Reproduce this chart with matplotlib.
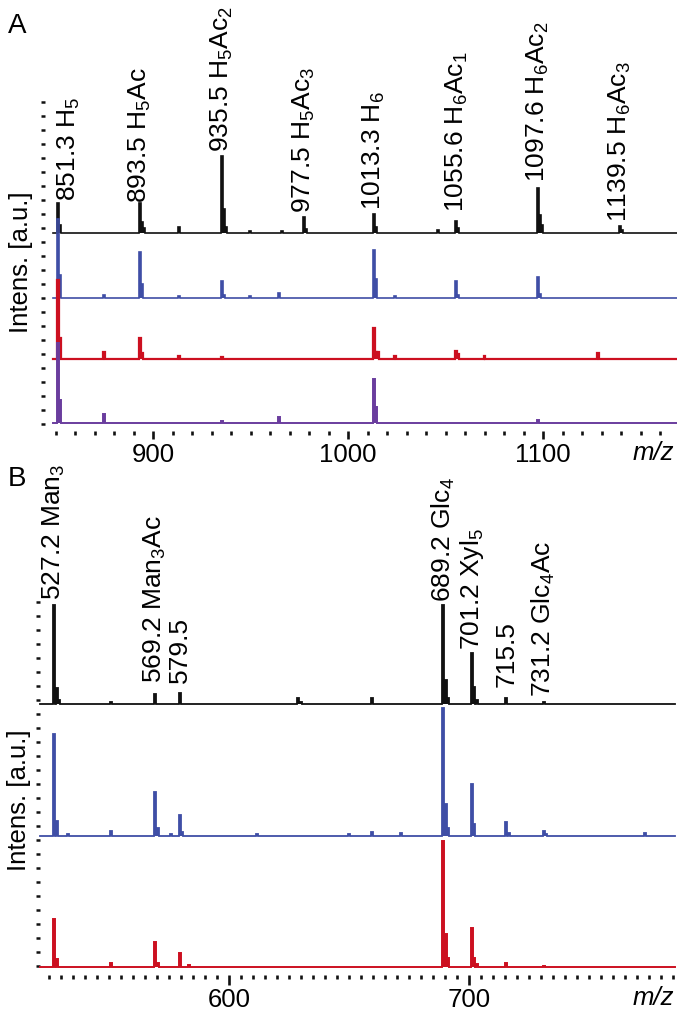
import numpy as np
import matplotlib
matplotlib.use('Agg')
import matplotlib.pyplot as plt
from matplotlib.ticker import FixedLocator, MultipleLocator, NullFormatter, FixedFormatter

plt.rcParams['font.family'] = ['Liberation Sans', 'DejaVu Sans']
plt.rcParams['mathtext.fontset'] = 'custom'
plt.rcParams['mathtext.rm'] = 'Liberation Sans'
plt.rcParams['mathtext.it'] = 'Liberation Sans:italic'
plt.rcParams['mathtext.default'] = 'regular'

# ---------------- Panel A data (m/z, intensity in a.u.) ----------------
a_black_mz  = [851.3, 852.3, 893.5, 894.5, 895.5, 913.5, 935.5, 936.5, 937.5, 949.5, 966.0,
               977.5, 978.5, 1013.3, 1014.3, 1046.0, 1055.6, 1056.6, 1097.6, 1098.6, 1099.6,
               1139.5, 1140.5]
a_black_int = [30, 8, 30, 11, 5, 6, 77, 24, 6, 2, 2,
               16, 4, 19, 6, 3, 12, 5, 45, 18, 8,
               7, 3]

a_blue_mz  = [851.3, 852.3, 875.0, 893.5, 894.5, 913.5, 935.5, 936.5, 949.5, 964.5,
              1013.3, 1014.3, 1024.0, 1055.6, 1056.6, 1097.6, 1098.6]
a_blue_int = [79, 23, 3, 46, 14, 2, 17, 3, 2, 5,
              48, 19, 2, 17, 3, 21, 4]

a_red_mz  = [851.3, 852.3, 875.0, 893.5, 894.5, 913.5, 935.5, 1013.3, 1014.3, 1015.3,
             1024.0, 1055.6, 1056.6, 1070.0, 1128.0]
a_red_int = [79, 21, 7, 21, 6, 3, 2, 31, 7, 7,
             3, 8, 5, 3, 6]

a_purple_mz  = [851.3, 852.3, 875.0, 935.5, 964.5, 1013.3, 1014.3, 1097.6]
a_purple_int = [80, 23, 9, 2, 6, 44, 16, 3]

a_label_mz   = [851.3, 893.5, 935.5, 977.5, 1013.3, 1055.6, 1097.6, 1139.5]
a_label_text = [r'851.3 H$_5$', r'893.5 H$_5$Ac', r'935.5 H$_5$Ac$_2$', r'977.5 H$_5$Ac$_3$',
                r'1013.3 H$_6$', r'1055.6 H$_6$Ac$_1$', r'1097.6 H$_6$Ac$_2$', r'1139.5 H$_6$Ac$_3$']
a_xticks       = [900, 1000, 1100]
a_xtick_labels = ['900', '1000', '1100']

# ---------------- Panel B data ----------------
b_black_mz  = [527.2, 528.2, 529.2, 551.0, 569.2, 579.5, 628.8, 629.8, 659.5,
               689.2, 690.2, 691.2, 701.2, 702.2, 703.2, 715.5, 731.2]
b_black_int = [99, 16, 4, 2, 10, 11, 6, 2, 6,
               99, 24, 6, 51, 17, 4, 6, 2]

b_blue_mz  = [527.2, 528.2, 533.0, 551.0, 569.2, 570.2, 576.0, 579.5, 580.5, 611.5, 650.0,
              659.5, 671.5, 689.2, 690.2, 691.2, 701.2, 702.2, 715.5, 716.5, 731.2, 732.2, 773.5]
b_blue_int = [102, 15, 2, 5, 44, 8, 2, 21, 4, 2, 2,
              4, 3, 128, 32, 8, 52, 12, 14, 3, 5, 2, 3]

b_red_mz  = [527.2, 528.2, 551.0, 569.2, 570.2, 579.5, 583.5,
             689.2, 690.2, 691.2, 701.2, 702.2, 703.2, 715.5, 731.2]
b_red_int = [48, 8, 4, 25, 4, 14, 2,
             126, 33, 9, 39, 9, 3, 4, 1]

b_label_mz   = [527.2, 569.2, 579.5, 689.2, 701.2, 715.5, 731.2]
b_label_text = [r'527.2 Man$_3$', r'569.2 Man$_3$Ac', r'579.5', r'689.2 Glc$_4$',
                r'701.2 Xyl$_5$', r'715.5', r'731.2 Glc$_4$Ac']
b_xticks       = [600, 700]
b_xtick_labels = ['600', '700']

# ---------------- styling / layout ----------------
BLACK = '#111111'
BLUE = '#3f4ea6'
RED = '#cc1020'
PURPLE = '#6a3d9e'
FS = 18.5

W, H = 677, 1016
fig = plt.figure(figsize=(W / 100, H / 100), dpi=100)


def px_axes(left, top, right, bottom):
    return fig.add_axes([left / W, 1 - bottom / H, (right - left) / W, (bottom - top) / H])


def stick_path(mz, inten, start, end, width):
    order = np.argsort(mz)
    xs = [start]
    ys = [0.0]
    for i in order:
        m, h = mz[i], inten[i]
        xs += [m - width / 2, m - width / 2, m + width / 2, m + width / 2]
        ys += [0, h, h, 0]
    xs.append(end)
    ys.append(0.0)
    return np.array(xs), np.array(ys)


def draw_trace(ax, mz, inten, start, end, width, off, color, lw):
    x, y = stick_path(mz, inten, start, end, width)
    ax.fill_between(x, off, y + off, color=color, lw=0, clip_on=False)
    ax.plot(x, y + off, color=color, lw=lw, solid_joinstyle='miter', clip_on=False)


def style_axes(ax, minor_step, ytick_start, ytick_step, ytop, major_len):
    for s in ['top', 'right', 'bottom', 'left']:
        ax.spines[s].set_visible(False)
    ax.xaxis.set_minor_locator(MultipleLocator(minor_step))
    ax.xaxis.set_minor_formatter(NullFormatter())
    ax.yaxis.set_major_locator(FixedLocator(np.arange(ytick_start, ytop, ytick_step)))
    ax.yaxis.set_major_formatter(NullFormatter())
    ax.tick_params(axis='x', which='minor', direction='out', length=3.2, width=1.9, color='#111111')
    ax.tick_params(axis='x', which='major', direction='out', length=major_len, width=1.9,
                   color='#111111', labelsize=FS, pad=2.5)
    ax.tick_params(axis='y', which='major', direction='out', length=3.0, width=1.8, color='#111111')
    ax.set_facecolor('none')


# ---------------- Panel A ----------------
axA = px_axes(45, 100, 677, 431)
a_xlim = (900 - 108 / 1.95, 900 + (677 - 153) / 1.95)
axA.set_xlim(*a_xlim)
axA.set_ylim(0, 331)
a_start = 848.7
a_off = [198, 133, 72, 8]
a_series = [(a_black_mz, a_black_int, BLACK, 1.2), (a_blue_mz, a_blue_int, BLUE, 1.2),
            (a_red_mz, a_red_int, RED, 1.6), (a_purple_mz, a_purple_int, PURPLE, 1.4)]
for (mz, it, col, lw), off in zip(a_series, a_off):
    draw_trace(axA, mz, it, a_start, a_xlim[1], 1.0, off, col, lw)
axA.xaxis.set_major_locator(FixedLocator(a_xticks))
axA.xaxis.set_major_formatter(FixedFormatter(a_xtick_labels))
style_axes(axA, 10, 7, 14, 331, 5.8)

a_gap = [2, 0, 4, 4, 4, 9, 6, 4]
a_dx = [5.5, 0, 0, 0, 0, 0, 0, 0]
for m, t, g, dx in zip(a_label_mz, a_label_text, a_gap, a_dx):
    h = a_black_int[a_black_mz.index(m)]
    axA.text(m + dx, a_off[0] + h + g, t, rotation=90, ha='center', va='bottom', fontsize=FS + 0.5)

# ---------------- Panel B ----------------
axB = px_axes(40, 600, 677, 975)
b_xlim = (600 - 189 / 2.4, 600 + 448 / 2.4)
axB.set_xlim(*b_xlim)
axB.set_ylim(0, 375)
b_end = 786.0
b_off = [271, 139, 8]
b_series = [(b_black_mz, b_black_int, BLACK, 1.3), (b_blue_mz, b_blue_int, BLUE, 1.3),
            (b_red_mz, b_red_int, RED, 1.4)]
for (mz, it, col, lw), off in zip(b_series, b_off):
    draw_trace(axB, mz, it, b_xlim[0], b_end, 0.9, off, col, lw)
axB.xaxis.set_major_locator(FixedLocator(b_xticks))
axB.xaxis.set_major_formatter(FixedFormatter(b_xtick_labels))
style_axes(axB, 5, 9, 14, 375, 7.2)

b_gap = [5, 11, 10, 3, 3, 11, 5]
for m, t, g in zip(b_label_mz, b_label_text, b_gap):
    h = b_black_int[b_black_mz.index(m)]
    axB.text(m, b_off[0] + h + g, t, rotation=90, ha='center', va='bottom', fontsize=FS + 0.5)

# ---------------- annotations ----------------
fig.text(8 / W, 1 - 33 / H, 'A', fontsize=FS + 1.5, ha='left', va='baseline')
fig.text(8 / W, 1 - 486 / H, 'B', fontsize=FS + 1.5, ha='left', va='baseline')
fig.text(21 / W, 1 - 262 / H, 'Intens. [a.u.]', rotation=90, ha='center', va='center', fontsize=FS)
fig.text(19 / W, 1 - 800 / H, 'Intens. [a.u.]', rotation=90, ha='center', va='center', fontsize=FS)
fig.text(674 / W, 1 - 453 / H, 'm/z', fontstyle='italic', ha='right', va='center', fontsize=FS)
fig.text(674 / W, 1 - 998 / H, 'm/z', fontstyle='italic', ha='right', va='center', fontsize=FS)

fig.savefig('out.png', dpi=100, facecolor='white')
